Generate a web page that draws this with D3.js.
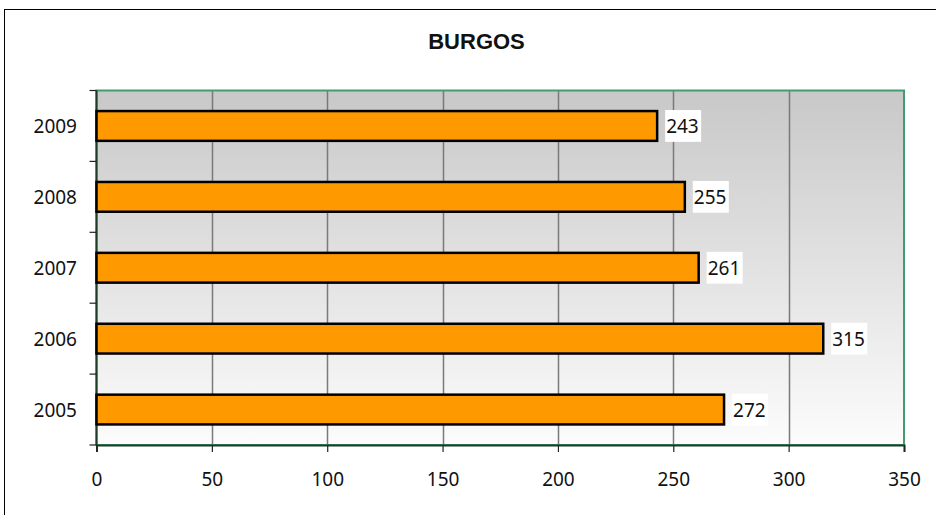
<!DOCTYPE html>
<html><head><meta charset="utf-8">
<script src="https://cdn.jsdelivr.net/npm/d3@7"></script>
<style>body{margin:0;background:#fff}svg{display:block}</style>
</head><body>
<script>
const title = "BURGOS";
const categories = ["2005","2006","2007","2008","2009"];
const values = [272, 315, 261, 255, 243];
const xTicks = [0,50,100,150,200,250,300,350];

const W=936,H=515;
const svg=d3.select("body").append("svg").attr("width",W).attr("height",H);
const font="Noto Sans, Open Sans, sans-serif";

svg.append("rect").attr("x",4.5).attr("y",9.5).attr("width",1000).attr("height",1000)
  .attr("fill","#fff").attr("stroke","#000").attr("stroke-width",1);

const L=96.5,R=904,T=90.5,B=445;
const x=d3.scaleLinear().domain([0,350]).range([L,R]);
const y=d3.scaleBand().domain(categories.slice().reverse()).range([T,B]).paddingInner(0.58).paddingOuter(0.29);

const defs=svg.append("defs");
const g=defs.append("linearGradient").attr("id","bg").attr("x1",0).attr("y1",0).attr("x2",0).attr("y2",1);
g.append("stop").attr("offset","0%").attr("stop-color","#c8c8c8");
g.append("stop").attr("offset","100%").attr("stop-color","#fcfcfc");

svg.append("rect").attr("x",L).attr("y",T).attr("width",R-L).attr("height",B-T).attr("fill","url(#bg)");

// gridlines
svg.append("g").selectAll("line").data(xTicks.slice(1,-1)).join("line")
  .attr("x1",d=>Math.round(x(d))+0.5).attr("x2",d=>Math.round(x(d))+0.5)
  .attr("y1",T).attr("y2",B).attr("stroke","#7a7a7a").attr("stroke-width",1.5);

// plot border
svg.append("rect").attr("x",L).attr("y",T).attr("width",R-L).attr("height",B-T)
  .attr("fill","none").attr("stroke","#3f9d6e").attr("stroke-width",2);

// x axis
const xAxis=d3.axisBottom(x).tickValues(xTicks).tickSize(7).tickPadding(22).tickFormat(d3.format("d"));
const xa=svg.append("g").attr("transform",`translate(0,${B})`).call(xAxis);
xa.select(".domain").attr("stroke","#1c3d28").attr("stroke-width",2);
xa.selectAll(".tick line").attr("stroke","#222").attr("stroke-width",1.2);
xa.selectAll("text").attr("font-family",font).attr("font-size",19).attr("fill","#111")
  .attr("dy",null).attr("y",41);

// y axis
const yBoundaries=[0,1,2,3,4,5].map(i=>T+i*(B-T)/5);
svg.append("line").attr("x1",L).attr("x2",L).attr("y1",T).attr("y2",B).attr("stroke","#1c3d28").attr("stroke-width",2);
svg.append("g").selectAll("line").data(yBoundaries).join("line")
  .attr("x1",L-7).attr("x2",L).attr("y1",d=>d).attr("y2",d=>d).attr("stroke","#222").attr("stroke-width",1.2);
svg.append("g").selectAll("text").data(categories).join("text")
  .attr("x",77).attr("y",d=>y(d)+y.bandwidth()/2+7).attr("text-anchor","end")
  .attr("font-family",font).attr("font-size",19).attr("fill","#111").text(d=>d);

// bars
svg.append("g").selectAll("rect").data(categories).join("rect")
  .attr("x",x(0)).attr("y",(d)=>y(d)).attr("width",(d,i)=>x(values[i])-x(0)).attr("height",y.bandwidth())
  .attr("fill","#ff9900").attr("stroke","#000").attr("stroke-width",2.5);

// labels
const lab=svg.append("g").selectAll("g").data(categories).join("g")
  .attr("transform",(d,i)=>`translate(${x(values[i])+8},${y(d)})`);
lab.append("rect").attr("x",0).attr("y",-1).attr("width",36).attr("height",y.bandwidth()+2).attr("fill","#fff");
lab.append("text").attr("x",1).attr("y",y.bandwidth()/2+7.5).attr("font-family",font).attr("font-size",19).attr("fill","#111")
  .text((d,i)=>values[i]);

svg.append("text").attr("x",476.5).attr("y",48.5).attr("text-anchor","middle")
  .attr("font-family","Liberation Sans, Arial, sans-serif").attr("font-weight","bold").attr("font-size",22).attr("fill","#111").text(title);
</script>
</body></html>
